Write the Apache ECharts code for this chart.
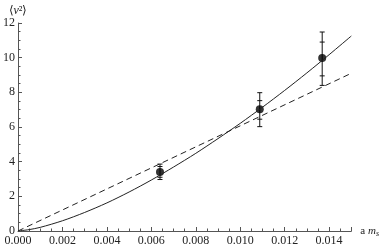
<!DOCTYPE html>
<html><head><meta charset="utf-8">
<script src="https://cdn.jsdelivr.net/npm/echarts@6/dist/echarts.min.js"></script>
<style>html,body{margin:0;padding:0;background:#fff}#c{width:382px;height:247px}</style>
</head><body><div id="c"></div>
<script>
// Data points (a m_s, <v^2>)
const pointX = [0.00639, 0.01088, 0.01369];
const pointY = [3.40, 7.02, 9.98];
const errOuterLo = [2.97, 6.02, 8.40];
const errOuterHi = [3.86, 7.98, 11.48];
const errInnerLo = [3.10, 6.45, 8.95];
const errInnerHi = [3.72, 7.52, 10.90];
// Solid fit curve
const solidX = [0, 0.0005, 0.001, 0.002, 0.003, 0.004, 0.005, 0.006, 0.007, 0.008, 0.009, 0.010, 0.011, 0.012, 0.013, 0.014, 0.015];
const solidY = [0, 0.08, 0.21, 0.59, 1.07, 1.62, 2.25, 2.94, 3.69, 4.48, 5.33, 6.21, 7.14, 8.11, 9.12, 10.17, 11.25];
// Dashed linear fit
const dashX = [0, 0.015];
const dashY = [0, 9.1];
// Axis ticks
const xTicks = [0, 0.002, 0.004, 0.006, 0.008, 0.010, 0.012, 0.014];
const yTicks = [0, 2, 4, 6, 8, 10, 12];

const chart = echarts.init(document.getElementById('c'), null, {renderer: 'canvas'});
const font = 'Liberation Serif';
const axisCol = '#555';
const txtCol = '#222';

const errData = pointX.map((x, i) => [x, errOuterLo[i], errOuterHi[i], errInnerLo[i], errInnerHi[i]]);

chart.setOption({
  animation: false,
  grid: {left: 15, right: 30.5, top: 23, bottom: 16, containLabel: false},
  xAxis: {
    type: 'value', min: 0, max: 0.015, interval: 0.002,
    name: '{r|a }{i|m}{s|s}', nameLocation: 'end', nameGap: 9,
    nameTextStyle: {
      verticalAlign: 'middle',
      rich: {
        r: {fontFamily: font, fontSize: 11, color: txtCol},
        i: {fontFamily: font, fontSize: 11, fontStyle: 'italic', color: txtCol},
        s: {fontFamily: font, fontSize: 8, fontStyle: 'italic', color: txtCol, verticalAlign: 'bottom', padding: [6, 0, 0, 0]}
      }
    },
    axisLine: {show: true, onZero: false, lineStyle: {color: axisCol, width: 1}},
    axisTick: {show: true, inside: true, length: 4, lineStyle: {color: axisCol}},
    minorTick: {show: true, splitNumber: 4, length: 2.5, lineStyle: {color: axisCol}},
    splitLine: {show: false},
    axisLabel: {
      fontFamily: font, fontSize: 12, color: txtCol, margin: 4, showMaxLabel: false,
      formatter: v => xTicks.some(t => Math.abs(t - v) < 1e-9) ? v.toFixed(3) : ''
    }
  },
  yAxis: {
    type: 'value', min: 0, max: 12, interval: 2,
    name: '⟨{i|v}²⟩', nameLocation: 'end', nameGap: 6,
    nameTextStyle: {
      fontFamily: font, fontSize: 12, color: txtCol, align: 'center',
      rich: {i: {fontFamily: font, fontSize: 12, fontStyle: 'italic', color: txtCol}}
    },
    axisLine: {show: true, onZero: false, lineStyle: {color: axisCol, width: 1}},
    axisTick: {show: true, inside: true, length: 4, lineStyle: {color: axisCol}},
    minorTick: {show: true, splitNumber: 4, length: 2.5, lineStyle: {color: axisCol}},
    splitLine: {show: false},
    axisLabel: {
      fontFamily: font, fontSize: 12, color: txtCol, margin: 3,
      formatter: v => yTicks.includes(v) ? String(v) : ''
    }
  },
  series: [
    {
      type: 'line', data: dashX.map((x, i) => [x, dashY[i]]),
      symbol: 'none', lineStyle: {color: '#222', width: 1, type: [6, 4]}
    },
    {
      type: 'line', data: solidX.map((x, i) => [x, solidY[i]]),
      symbol: 'none', smooth: 0.3, lineStyle: {color: '#222', width: 1}
    },
    {
      type: 'custom', data: errData,
      renderItem: (params, api) => {
        const x = api.value(0);
        const pLo = api.coord([x, api.value(1)]);
        const pHi = api.coord([x, api.value(2)]);
        const iLo = api.coord([x, api.value(3)]);
        const iHi = api.coord([x, api.value(4)]);
        const w = 2.5;
        const st = {stroke: '#111', lineWidth: 1};
        const ln = (x1, y1, x2, y2) => ({type: 'line', shape: {x1, y1, x2, y2}, style: st});
        return {type: 'group', children: [
          ln(pLo[0], pLo[1], pHi[0], pHi[1]),
          ln(pLo[0] - w, pLo[1], pLo[0] + w, pLo[1]),
          ln(pHi[0] - w, pHi[1], pHi[0] + w, pHi[1]),
          ln(iLo[0] - w, iLo[1], iLo[0] + w, iLo[1]),
          ln(iHi[0] - w, iHi[1], iHi[0] + w, iHi[1])
        ]};
      }
    },
    {
      type: 'scatter', data: pointX.map((x, i) => [x, pointY[i]]),
      symbol: 'circle', symbolSize: 8, itemStyle: {color: '#000'}
    }
  ]
});
</script>
</body></html>
